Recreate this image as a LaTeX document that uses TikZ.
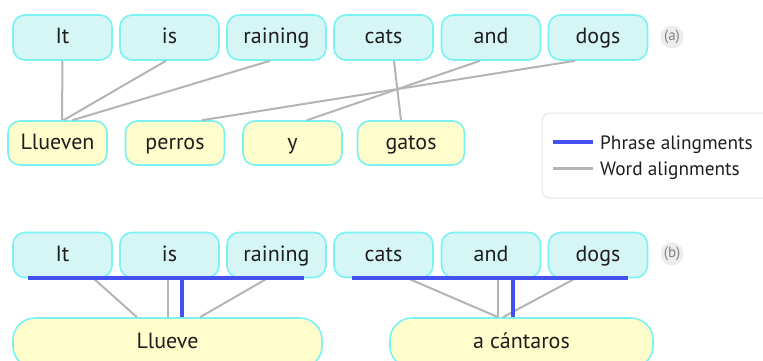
\documentclass[tikz,border=0pt]{standalone}
\usepackage{fontspec}
\setmainfont{PT Sans}
\usetikzlibrary{calc}
\definecolor{srcfill}{RGB}{214,246,245}
\definecolor{tgtfill}{RGB}{255,253,204}
\definecolor{boxedge}{RGB}{122,242,242}
\definecolor{phrasecol}{RGB}{68,80,240}
\definecolor{wordcol}{RGB}{180,180,180}
\definecolor{txtcol}{RGB}{30,30,30}
\definecolor{legedge}{RGB}{228,228,228}
\definecolor{tagfill}{RGB}{236,236,236}
\definecolor{tagtxt}{RGB}{130,130,130}
\tikzset{
  x=1pt, y=-1pt,
  wordfont/.style={font=\fontsize{22}{24}\selectfont, text height=15.5pt, text depth=3.5pt},
  word/.style={draw=boxedge, line width=1.6pt, rounded corners=12pt,
    minimum width=99pt, minimum height=45pt, inner sep=0pt,
    text=txtcol, wordfont},
  srcword/.style={word, fill=srcfill},
  tgtword/.style={word, fill=tgtfill, minimum height=44pt},
  tgtphrase/.style={word, fill=tgtfill, minimum height=50pt, rounded corners=22pt},
  wordlink/.style={draw=wordcol, line width=2pt},
  phraselink/.style={draw=phrasecol, line width=3.6pt},
  tag/.style={circle, fill=tagfill, inner sep=0pt, minimum size=23pt,
    text=tagtxt, font=\fontsize{15}{16}\selectfont},
  legendtext/.style={anchor=west, inner sep=0pt, text=txtcol,
    font=\fontsize{19.3}{22}\selectfont, text height=15.5pt, text depth=3.5pt},
}
\begin{document}
\begin{tikzpicture}
\useasboundingbox (0,0) rectangle (763,360);

% ---------------- (a) word alignments ----------------
\node[srcword] (a1) at (62.5,37.5) {It};
\node[srcword] (a2) at (169.5,37.5) {is};
\node[srcword] (a3) at (276.5,37.5) {raining};
\node[srcword] (a4) at (383.5,37.5) {cats};
\node[srcword] (a5) at (491,37.5) {and};
\node[srcword] (a6) at (598,37.5) {dogs};
\node[tag] (taga) at (672,37) {(a)};

\node[tgtword] (t1) at (57.5,143) {Llueven};
\node[tgtword] (t2) at (175,143) {perros};
\node[tgtword] (t3) at (292.5,143) {y};
\node[tgtword, minimum width=107pt] (t4) at (411,143) {gatos};

\draw[wordlink] (a1.south) -- ($(t1.north)+(4.5,0)$);
\draw[wordlink] ($(a2.south)+(-3.5,0)$) -- ($(t1.north)+(6,0)$);
\draw[wordlink] ($(a3.south)+(-6.5,0)$) -- ($(t1.north)+(15,0)$);
\draw[wordlink] ($(a4.south)+(10.5,0)$) -- ($(t4.north)+(-10,0)$);
\draw[wordlink] ($(a5.south)+(-11,0)$) -- ($(t3.north)+(14.5,0)$);
\draw[wordlink] ($(a6.south)+(-23,0)$) -- ($(t2.north)+(27,0)$);

% legend
\draw[legedge, line width=1pt, fill=white, rounded corners=8pt] (542,113) rectangle (790,198);
\coordinate (lb1) at (553,142);
\coordinate (lb2) at (593,142);
\coordinate (lg1) at (553,168);
\coordinate (lg2) at (593,168);
\draw[phraselink] (lb1) -- (lb2);
\draw[wordlink, line width=3pt] (lg1) -- (lg2);
\node[legendtext] (legp) at (600,143) {Phrase alingments};
\node[legendtext] (legw) at (600,169) {Word alignments};

% ---------------- (b) phrase alignments ----------------
\node[srcword] (b1) at (62.5,255) {It};
\node[srcword] (b2) at (169.5,255) {is};
\node[srcword] (b3) at (276.5,255) {raining};
\node[srcword] (b4) at (383.5,255) {cats};
\node[srcword] (b5) at (491,255) {and};
\node[srcword] (b6) at (598,255) {dogs};
\node[tag] (tagb) at (672,254) {(b)};

\node[tgtphrase, minimum width=309pt] (p1) at (167.5,343) {};
\node[tgtphrase, minimum width=263pt] (p2) at (521.5,343) {};
\node[text=txtcol, wordfont, inner sep=0pt] (p1text) at (167.5,342) {Llueve};
\node[text=txtcol, wordfont, inner sep=0pt] (p2text) at (521.5,342) {a cántaros};

% phrase bars under the source phrases
\coordinate (g1l) at (28,278);
\coordinate (g1r) at (304,278);
\coordinate (g2l) at (352,278);
\coordinate (g2r) at (628,278);

% word links from the bars to the target phrases
\draw[wordlink] (93,278) -- ($(p1.north)+(-30.5,0)$);
\draw[wordlink] (168,278) -- ($(p1.north)+(0.5,0)$);
\draw[wordlink] (268,278) -- ($(p1.north)+(32.5,0)$);
\draw[wordlink] (407,278) -- ($(p2.north)+(-23.5,0)$);
\draw[wordlink] (498,278) -- ($(p2.north)+(-23.5,0)$);
\draw[wordlink] (576,278) -- ($(p2.north)+(-18.5,0)$);

\draw[phraselink] (g1l) -- (g1r);
\draw[phraselink] (g2l) -- (g2r);
\draw[phraselink] (182,278) -- (p1.north -| 182,0);
\draw[phraselink] (513,278) -- (p2.north -| 513,0);
\end{tikzpicture}
\end{document}
